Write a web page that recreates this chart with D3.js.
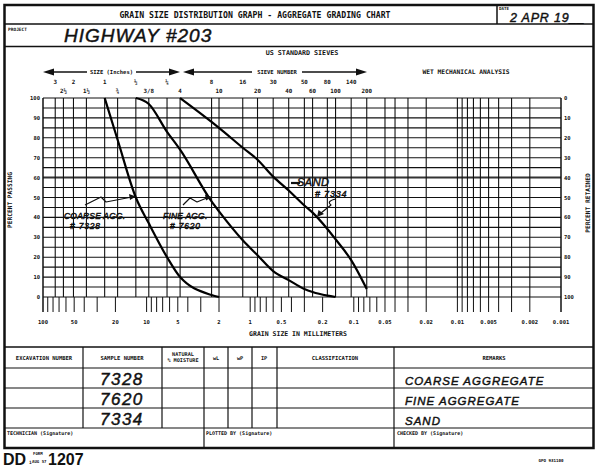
<!DOCTYPE html>
<html><head><meta charset="utf-8">
<script src="https://cdn.jsdelivr.net/npm/d3@7"></script>
<style>body{margin:0;background:#fff}svg{display:block}</style>
</head><body>
<script>
// ---------- data ----------
const title = "GRAIN SIZE DISTRIBUTION GRAPH - AGGREGATE GRADING CHART";
const project = "HIGHWAY #203";
const dateText = "2 APR 19__";

// sieve openings (mm) used for vertical grid lines
const sieveSizes = [76.2, 63.5, 50.8, 38.1, 25.4, 19.05, 12.7, 9.525, 6.35, 4.75,
  2.36, 2.0, 1.18, 0.85, 0.6, 0.425, 0.3, 0.25, 0.18, 0.15, 0.106, 0.075];
const hydroLines = [0.05, 0.04, 0.03, 0.02, 0.01, 0.009, 0.008, 0.007, 0.006, 0.005, 0.004, 0.003, 0.002];

const inchRow1Size = [76.2, 50.8, 25.4, 12.7, 6.35];
const inchRow1Label = ["3", "2", "1", "½", "¼"];
const inchRow2Size = [63.5, 38.1, 19.05, 9.525, 4.75];
const inchRow2Label = ["2½", "1½", "¾", "3/8", "4"];
const sieveRow1Size = [2.36, 1.18, 0.6, 0.3, 0.18, 0.106];
const sieveRow1Label = ["8", "16", "30", "50", "80", "140"];
const sieveRow2Size = [2.0, 0.85, 0.425, 0.25, 0.15, 0.075];
const sieveRow2Label = ["10", "20", "40", "60", "100", "200"];

const mmTickLabels = [100, 50, 20, 10, 5, 2, 1, 0.5, 0.2, 0.1, 0.05, 0.02, 0.01, 0.005, 0.002, 0.001];
const percentTicks = [0, 10, 20, 30, 40, 50, 60, 70, 80, 90, 100];

// Coarse aggregate #7328
const coarseSize = [25.4, 19.05, 12.7, 9.525, 6.35, 4.75, 2.36, 2.0];
const coarsePass = [100, 79, 50, 37, 20, 10, 1, 0];
// Fine aggregate #7620
const fineSize = [12.7, 9.525, 6.35, 4.75, 2.36, 2.0, 1.18, 0.85, 0.6, 0.425, 0.3, 0.25, 0.18, 0.15];
const finePass = [100, 97, 83, 74, 48, 43, 28.5, 21, 13, 8.5, 4, 2.5, 0.7, 0];
// Sand #7334
const sandSize = [4.75, 2.36, 2.0, 1.18, 0.85, 0.6, 0.425, 0.3, 0.25, 0.18, 0.15, 0.106, 0.075];
const sandPass = [100, 88, 85, 75, 69, 60.5, 53.5, 46, 42.4, 34.2, 29, 18.5, 4];

const tableSamples = ["7328", "7620", "7334"];
const tableRemarks = ["COARSE AGGREGATE", "FINE AGGREGATE", "SAND"];

// ---------- drawing ----------
const W = 601, H = 471;
const PF = "'DejaVu Sans Mono', monospace";
const HF = "'Liberation Sans', 'DejaVu Sans', sans-serif";
const svg = d3.select("body").append("svg").attr("width", W).attr("height", H)
  .style("background", "#fff");

const x = d3.scaleLog().domain([100, 0.001]).range([43, 561]);
const y = d3.scaleLinear().domain([0, 100]).range([297, 98]);
const yR = d3.scaleLinear().domain([0, 100]).range([98, 297]);

function line(x1, y1, x2, y2, w, c) {
  svg.append("line").attr("x1", x1).attr("y1", y1).attr("x2", x2).attr("y2", y2)
    .attr("stroke", c || "#111").attr("stroke-width", w || 1);
}
function ptext(px, py, s, size, anchor, extra) {
  const t = svg.append("text").attr("x", px).attr("y", py).text(s)
    .attr("font-family", PF).attr("font-weight", "bold").attr("font-size", size)
    .attr("text-anchor", anchor || "start").attr("fill", "#111");
  if (extra) extra(t);
  return t;
}
function htext(px, py, s, size, anchor, ls) {
  return svg.append("text").attr("x", px).attr("y", py).text(s)
    .attr("font-family", HF).attr("font-style", "italic").attr("font-size", size)
    .attr("text-anchor", anchor || "start").attr("fill", "#111")
    .attr("stroke", "#111").attr("stroke-width", 0.45)
    .attr("letter-spacing", ls || 0);
}

// form frame
svg.append("rect").attr("x", 4.5).attr("y", 5).attr("width", 589).attr("height", 443)
  .attr("fill", "none").attr("stroke", "#111").attr("stroke-width", 2.5);
line(4, 24, 593, 24, 1.5);
line(4, 46.5, 593, 46.5, 1.5);
line(497, 5, 497, 24, 1.5);
line(4, 347, 593, 347, 1.5);
[368, 388, 408, 428].forEach(v => line(4, v, 593, v, 1.2));
[83, 162, 228, 252, 277].forEach(v => line(v, 347, v, 428, 1.2));
[204, 394].forEach(v => line(v, 347, v, 448, 1.2));

// header text
ptext(255, 18, title, 8.2, "middle");
ptext(499, 10, "DATE", 4.2);
htext(510, 21.5, dateText, 12.5, "start", 0.8);
ptext(8, 31, "PROJECT", 4.5);
htext(64, 42, project, 19, "start", 1);

// grid - horizontal
for (let p = 0; p <= 100; p += 5) {
  const isMain = p === 60;
  line(43, y(p), 561, y(p), isMain ? 2 : 1.1, isMain ? "#333" : "#111");
}
// grid - vertical
sieveSizes.concat(hydroLines).forEach(d => line(x(d), 98, x(d), 297, 1.1));
line(43, 98, 43, 312, 1.5);
line(561, 98, 561, 312, 1.5);

// bottom log ticks
const logTicks = [];
for (let e = 1; e >= -3; e--) for (let k = 9; k >= 1; k--) logTicks.push(k * Math.pow(10, e));
logTicks.forEach(d => { if (d < 100 && d > 0.001) line(x(d), 297, x(d), 312, 1); });

// bottom labels
mmTickLabels.forEach(d => ptext(x(d), 324, String(d), 5.5, "middle"));
ptext(298, 336, "GRAIN SIZE IN MILLIMETERS", 6.5, "middle");

// percent axes
percentTicks.forEach(p => {
  ptext(40, y(p) + 2, String(p), 5.5, "end");
  ptext(564, yR(p) + 2, String(p), 5.5, "start");
});
ptext(12, 200, "PERCENT PASSING", 6.2, "middle", t => t.attr("transform", "rotate(-90,12,200)"));
ptext(590, 203, "PERCENT RETAINED", 6.2, "middle", t => t.attr("transform", "rotate(-90,590,203)"));

// top labels
ptext(302, 55, "US STANDARD SIEVES", 6.7, "middle");
ptext(466, 74, "WET MECHANICAL ANALYSIS", 6.3, "middle");
inchRow1Size.forEach((d, i) => ptext(x(d), 84, inchRow1Label[i], 5.8, "middle"));
inchRow2Size.forEach((d, i) => ptext(x(d), 93, inchRow2Label[i], 5.8, "middle"));
sieveRow1Size.forEach((d, i) => ptext(x(d), 84, sieveRow1Label[i], 5.8, "middle"));
sieveRow2Size.forEach((d, i) => ptext(x(d), 93, sieveRow2Label[i], 5.8, "middle"));

// arrows
function tri(pts) {
  svg.append("polygon").attr("points", pts.map(p => p.join(",")).join(" ")).attr("fill", "#111");
}
const ay = 72;
tri([[43, ay], [54, ay - 3.5], [54, ay + 3.5]]);
line(52, ay, 87, ay, 1.3);
ptext(111.5, ay + 2, "SIZE (Inches)", 5.5, "middle");
line(136, ay, 172, ay, 1.3);
tri([[180, ay], [169, ay - 3.5], [169, ay + 3.5]]);
tri([[183, ay], [194, ay - 3.5], [194, ay + 3.5]]);
line(192, ay, 252, ay, 1.3);
ptext(277, ay + 2, "SIEVE NUMBER", 5.5, "middle");
line(302, ay, 358, ay, 1.3);
tri([[367, ay], [356, ay - 3.5], [356, ay + 3.5]]);

// curves
const gen = d3.line().x(d => x(d[0])).y(d => y(d[1])).curve(d3.curveMonotoneX);
function curve(sizes, pass) {
  svg.append("path").datum(sizes.map((s, i) => [s, pass[i]])).attr("d", gen)
    .attr("fill", "none").attr("stroke", "#000").attr("stroke-width", 2.2);
}
curve(coarseSize, coarsePass);
curve(fineSize, finePass);
curve(sandSize, sandPass);

// handwritten annotations
function hpath(d, w) {
  svg.append("path").attr("d", d).attr("fill", "none").attr("stroke", "#111")
    .attr("stroke-width", w || 1.2).attr("stroke-linejoin", "round");
}
htext(64, 219, "COARSE AGG.", 8.5, "start", 0.2);
htext(70, 229, "# 7328", 8.5, "start", 0.8);
hpath("M85,205 L101,197 L106,202 L132,197");
tri([[136, 196.5], [129, 194], [130, 200]]);
htext(163, 219, "FINE AGG.", 8.5, "start", 0.2);
htext(170, 229, "# 7620", 8.5, "start", 0.8);
hpath("M183,205 L190,198 L197,202 L208,197.5");
tri([[212, 197], [205, 194.5], [206, 200.5]]);
hpath("M291,183 L300,183", 2.2);
htext(297, 186, "SAND", 11, "start", 0.5);
htext(315, 197, "# 7334", 9, "start", 0.8);
hpath("M336,199 Q326,201 331,205 L321,213");
tri([[317, 217], [318.5, 210], [324, 214]]);

// table header
ptext(44, 360, "EXCAVATION NUMBER", 5.5, "middle");
ptext(122, 360, "SAMPLE NUMBER", 5.5, "middle");
ptext(183, 356, "NATURAL", 5.2, "middle");
ptext(183, 362, "% MOISTURE", 5.2, "middle");
ptext(216, 360, "wL", 5.2, "middle");
ptext(240, 360, "wP", 5.2, "middle");
ptext(264, 360, "IP", 5.2, "middle");
ptext(335, 360, "CLASSIFICATION", 5.5, "middle");
ptext(494, 360, "REMARKS", 5.5, "middle");

tableSamples.forEach((s, i) => htext(100, 385 + i * 20, s, 17, "start", 1.5));
tableRemarks.forEach((s, i) => htext(405, 385 + i * 20, s, 11.5, "start", 1));

ptext(7, 435, "TECHNICIAN (Signature)", 5, "start");
ptext(206, 435, "PLOTTED BY (Signature)", 5, "start");
ptext(397, 435, "CHECKED BY (Signature)", 5, "start");

// footer
svg.append("text").attr("x", 3).attr("y", 465).text("DD")
  .attr("font-family", "'Liberation Sans', sans-serif").attr("font-weight", "bold")
  .attr("font-size", 16).attr("fill", "#111");
ptext(29, 464, "1", 4.5);
ptext(33, 455, "FORM", 4, "start");
ptext(32, 463, "AUG 57", 4, "start");
svg.append("text").attr("x", 48).attr("y", 465).text("1207")
  .attr("font-family", "'Liberation Sans', sans-serif").attr("font-weight", "bold")
  .attr("font-size", 16).attr("fill", "#111");
ptext(551, 462, "GPO 931100", 4.2, "middle");
</script>
</body></html>
